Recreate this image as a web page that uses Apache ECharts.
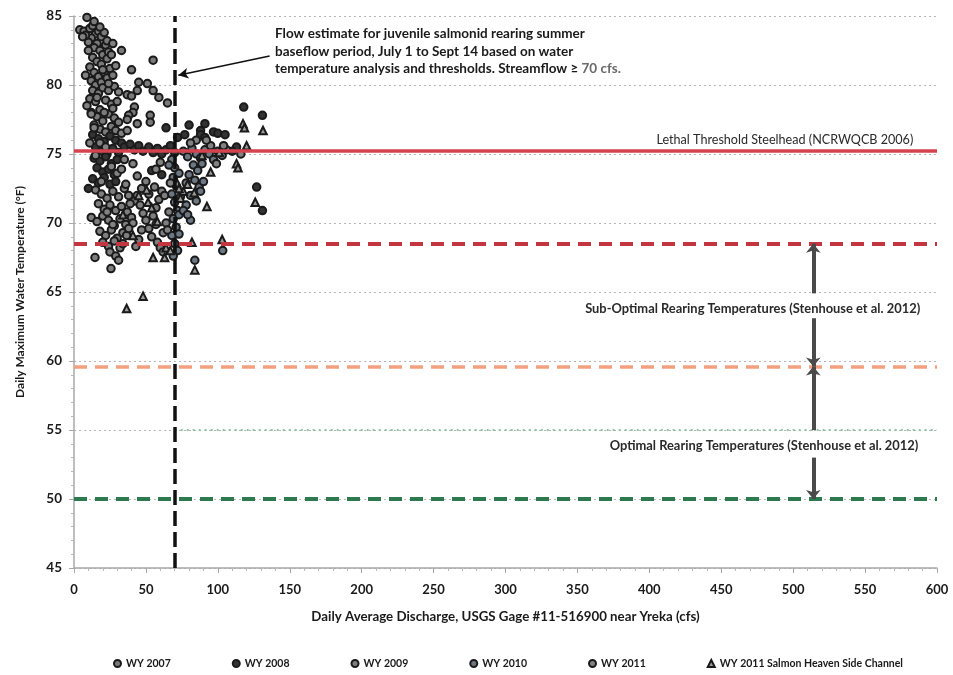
<!DOCTYPE html>
<html>
<head>
<meta charset="utf-8">
<script src="https://cdn.jsdelivr.net/npm/echarts@6/dist/echarts.min.js"></script>
<style>
  html, body { margin: 0; padding: 0; background: #fff; }
  #chart { width: 953px; height: 675px; }
</style>
</head>
<body>
<div id="chart"></div>
<script>
// Daily maximum water temperature vs. daily average discharge, by water year
const seriesNames = ['WY 2007', 'WY 2008', 'WY 2009', 'WY 2010', 'WY 2011', 'WY 2011 Salmon Heaven Side Channel'];

// [discharge (cfs), max water temperature (°F)]
const wy2007 = [
  [9,84.9],[4,84.0],[7,83.9],[11,84.1],[13,84.3],[15,83.7],[12,83.4],[17,83.9],[19,83.5],[21,83.8],
  [16,83.0],[10,83.1],[14,82.7],[18,82.5],[22,82.9],[20,82.2],[24,82.4],[13,82.0],[16,81.7],[19,81.5],
  [23,81.9],[26,82.2],[11,81.3],[14,80.9],[17,80.6],[21,80.9],[25,81.2],[12,80.3],[15,80.0],[19,80.2],
  [23,80.5],[27,80.7],[13,79.6],[17,79.4],[20,79.8],[24,79.6],[28,79.9],[11,79.0],[15,78.8],[18,78.2],
  [22,78.9],[26,78.6],[30,78.8],[12,78.0],[16,77.7],[20,77.4],[24,77.9],[28,77.6],[14,77.1],[18,76.8],
  [22,76.6],[26,77.0],[31,77.3],[33,82.5],[40,81.1],[55,81.8],[45,80.2],[51,80.1],[44,79.6],[55,79.6],
  [37,79.3],[40,79.2],[59,79.1],[65,78.7],[42,78.4],[41,78.0],[38,77.8],[37,77.5],[53,77.8],[53,77.3],[44,77.2],
  [8,83.6],[14,84.6],[18,84.2],[23,83.2],[20,81.1],[24,80.1],[16,79.1],[27,78.3],[21,78.0],[29,76.7]
];
const wy2008 = [
  [13,76.4],[17,76.1],[21,75.9],[25,76.3],[29,76.0],[33,75.8],[15,75.5],[19,75.2],[23,75.0],[27,75.4],
  [31,75.1],[14,74.7],[18,74.5],[22,74.8],[26,74.3],[30,74.6],[16,74.0],[20,73.7],[24,73.9],[28,73.5],
  [13,73.2],[17,72.9],[21,73.3],[25,72.8],[29,73.0],[10,72.5],[35,75.5],[39,75.7],[42,75.3],[45,75.6],
  [48,75.2],[52,75.5],[55,75.1],[58,75.4],[61,75.0],[64,75.3],[67,75.6],[70,75.1],[54,73.8],[61,73.5],
  [64,76.9],[80,77.1],[72,76.2],[77,76.4],[88,76.7],[91,77.2],[88,76.4],[91,76.2],[97,76.6],[100,76.5],
  [105,76.4],[118,78.4],[131,77.8],[127,72.6],[131,70.9],[113,75.5],[110,75.2]
];
const wy2009 = [
  [15,72.4],[19,72.1],[23,71.8],[27,72.3],[31,71.9],[35,72.5],[38,72.0],[17,71.4],[21,71.0],[25,71.3],
  [29,70.9],[33,71.2],[37,70.8],[12,70.4],[16,70.1],[20,70.5],[24,70.2],[28,69.8],[32,70.3],[36,69.9],
  [40,70.4],[18,69.4],[22,69.1],[26,69.5],[30,68.9],[34,69.3],[20,68.6],[24,68.3],[28,68.7],[32,68.2],
  [25,67.9],[29,67.6],[31,67.3],[14.6,67.5],[25.7,66.7],[36.6,69.1],[42,71.6],[44,72.0],[46,71.3],[48,70.7],
  [50,70.2],[52,69.6],[54,69.0],[47,69.5],[45,68.8],[43,68.3],[55,70.5],[57,71.1],[59,71.7],[61,72.3],
  [63,72.0],[58,68.6],[60,68.2],[62,69.3],[64,70.0],[66,70.8],[56,72.6],[50,73.0]
];
const wy2010 = [
  [68,74.6],[70,74.0],[69,73.3],[71,72.7],[68,72.1],[70,71.5],[72,70.9],[69,70.3],[71,69.7],[68,69.1],
  [70,68.5],[72,68.0],[69,67.6],[73,73.6],[74,71.9],[73,70.6],[73,69.2],[66,74.2],[76,75.2],[79,74.8],
  [82,75.4],[85,75.0],[88,74.7],[91,75.3],[94,75.0],[97,74.6],[100,75.2],[103,74.9],[106,75.3],[83,74.2],
  [86,73.8],[89,74.3],[80,73.5],[84,73.1],[87,72.6],[90,73.0],[78,72.9],[81,72.0],[85,71.6],[88,72.3],
  [78,71.3],[81,70.2],[84,67.3],[103.4,68.0],[76,70.9],[79,70.6]
];
const wy2011 = [
  [12,77.9],[14,76.9],[18,75.8],[22,75.5],[26,74.1],[30,73.6],[33,73.9],[36,72.8],[39,71.4],[41,70.0],
  [38,69.6],[34,68.5],[27,69.9],[23,70.8],[19,73.0],[15,74.9],[11,75.8],[9,78.5],[8,80.7],[10,82.5],
  [6,83.5],[27,83.0],[29,81.4],[31,79.5],[33,76.5],[35,74.6],[37,76.7],[41,74.3],[44,73.4],[47,72.5],
  [52,72.1],[57,69.9],[62,67.9],[65,69.5],[67,72.9],[60,74.4],[57,73.9],[95,75.6],[99,74.3],[104,75.6],
  [116,75.0],[92,76.0],[85,76.0],[81,75.8]
];
const wy2011SideChannel = [
  [117.5,77.2],[118.5,76.9],[131.4,76.7],[113,74.3],[114,74.0],[120,75.6],[95,73.7],[92.4,71.2],[83.6,72.2],[79,72.8],
  [76,72.3],[50.5,72.4],[126,71.5],[41,69.1],[55,67.5],[63,67.5],[64,68.2],[82,68.6],[84,66.6],[103,68.8],
  [36.6,63.8],[48,64.7],[51.5,71.5],[54,71.1],[71.6,72.9],[73,72.5],[74,71.8],[45,72.0],[58,70.1],[67,68.0],
  [34,70.6],[89,74.9],[101,75.1]
];

// Temperature thresholds (°F): lethal, sub-optimal upper, optimal upper, 55 °F, optimal lower
const thresholds = [75.2, 68.5, 59.6, 55, 50];
// Summer baseflow estimate (cfs)
const flowTarget = 70;

const allSeriesData = [wy2007, wy2008, wy2009, wy2010, wy2011, wy2011SideChannel];

const FONT = 'Lato, "Liberation Sans", sans-serif';
const chart = echarts.init(document.getElementById('chart'), null, { renderer: 'canvas' });

const fills = ['#7a7a7a', '#333333', '#7e7e7e', '#6b7782', '#828282', '#9a9a9a'];

const scatterSeries = allSeriesData.map((d, i) => ({
  name: seriesNames[i],
  type: 'scatter',
  data: d,
  symbol: i === 5 ? 'triangle' : 'circle',
  symbolSize: 7.5,
  z: 3,
  itemStyle: { color: fills[i], borderColor: '#1a1a1a', borderWidth: 2, opacity: 1 },
  emphasis: { disabled: true }
}));

const blockArrow = (from, to) => [
  { coord: [514, from], symbol: 'none' },
  { coord: [514, to], symbol: 'arrow', symbolSize: [11, 9] }
];

const refSeries = {
  name: 'refs',
  type: 'line',
  data: [],
  silent: true,
  z: 5,
  markLine: {
    silent: true,
    symbol: 'none',
    animation: false,
    label: { show: false },
    data: [
      [{ coord: [0, thresholds[0]], lineStyle: { color: '#d6434f', width: 3.5, type: 'solid' } }, { coord: [600, thresholds[0]] }],
      [{ coord: [0, thresholds[1]], lineStyle: { color: '#c3363f', width: 4, type: [13, 8] } }, { coord: [600, thresholds[1]] }],
      [{ coord: [0, thresholds[2]], lineStyle: { color: '#f2a07f', width: 3.5, type: [13, 8] } }, { coord: [600, thresholds[2]] }],
      [{ coord: [flowTarget, thresholds[3]], lineStyle: { color: '#8ec5a1', width: 2, type: [2, 4] } }, { coord: [600, thresholds[3]] }],
      [{ coord: [0, thresholds[4]], lineStyle: { color: '#2d7a4f', width: 4, type: [13, 8] } }, { coord: [600, thresholds[4]] }],
      [{ coord: [flowTarget, 45], lineStyle: { color: '#111', width: 3.5, type: [15, 6] } }, { coord: [flowTarget, 85] }],
      // pointer from the note to the flow line
      [{ coord: [136, 82.1], symbol: 'none', lineStyle: { color: '#111', width: 1.6, type: 'solid' } },
       { coord: [72.5, 80.7], symbol: 'arrow', symbolSize: [8, 10] }]
    ]
  },
  markPoint: {
    silent: true,
    animation: false,
    symbol: 'circle',
    symbolSize: 0,
    data: [
      { coord: [139.8, 82.45], label: { show: true, position: 'right', distance: 0, align: 'left',
        formatter: 'Flow estimate for juvenile salmonid rearing summer\nbaseflow period, July 1 to Sept 14 based on water\ntemperature analysis and thresholds. Streamflow \u2265 {g|70 cfs.}',
        fontFamily: FONT, fontSize: 13.5, fontWeight: 'bold', lineHeight: 17.5, color: '#1a1a1a',
        rich: { g: { fontFamily: FONT, fontSize: 13.5, fontWeight: 'bold', color: '#6a6a6a', lineHeight: 17.5 } } } },
      { coord: [583.5, 76.0], label: { show: true, position: 'left', distance: 0,
        formatter: 'Lethal Threshold Steelhead (NCRWQCB 2006)', fontFamily: FONT, fontSize: 12.6, color: '#2a2a2a' } },
      { coord: [588.3, 63.77], label: { show: true, position: 'left', distance: 0,
        formatter: 'Sub-Optimal Rearing Temperatures (Stenhouse et al. 2012)', fontFamily: FONT, fontSize: 12.9, fontWeight: 'bold', color: '#2a2a2a' } },
      { coord: [587, 53.84], label: { show: true, position: 'left', distance: 0,
        formatter: 'Optimal Rearing Temperatures (Stenhouse et al. 2012)', fontFamily: FONT, fontSize: 12.9, fontWeight: 'bold', color: '#2a2a2a' } }
    ]
  }
};

// Range arrows between the threshold bands
const arrowSeries = {
  name: 'ranges',
  type: 'line',
  data: [],
  silent: true,
  z: 6,
  markLine: {
    silent: true,
    animation: false,
    label: { show: false },
    lineStyle: { color: '#4a4a4a', width: 4, type: 'solid' },
    data: [
      blockArrow(64.9, thresholds[1]),
      blockArrow(63.1, thresholds[2]),
      blockArrow(55.0, thresholds[2]),
      blockArrow(53.0, thresholds[4])
    ]
  }
};

chart.setOption({
  animation: false,
  backgroundColor: '#ffffff',
  textStyle: { fontFamily: FONT },
  grid: { left: 74, right: 16, top: 16, bottom: 107, containLabel: false },
  xAxis: {
    type: 'value', min: 0, max: 600, interval: 50,
    name: 'Daily Average Discharge, USGS Gage #11-516900 near Yreka (cfs)',
    nameLocation: 'middle', nameGap: 42,
    nameTextStyle: { fontFamily: FONT, fontSize: 13.3, fontWeight: 'bold', color: '#1a1a1a' },
    axisLine: { show: true, lineStyle: { color: '#a8a8a8', width: 1.5 } },
    axisTick: { show: true, length: 5, lineStyle: { color: '#a8a8a8' } },
    minorTick: { show: true, splitNumber: 5, length: 3, lineStyle: { color: '#b8b8b8' } },
    axisLabel: { fontFamily: FONT, fontSize: 13, fontWeight: 'bold', color: '#1a1a1a', margin: 15 },
    splitLine: { show: false }
  },
  yAxis: {
    type: 'value', min: 45, max: 85, interval: 5,
    name: 'Daily Maximum Water Temperature (\u00b0F)',
    nameLocation: 'middle', nameGap: 48, nameRotate: 90,
    nameTextStyle: { fontFamily: FONT, fontSize: 12, fontWeight: 'bold', color: '#1a1a1a' },
    axisLine: { show: true, lineStyle: { color: '#a8a8a8', width: 1.5 } },
    axisTick: { show: true, length: 5, lineStyle: { color: '#a8a8a8' } },
    minorTick: { show: true, splitNumber: 5, length: 3, lineStyle: { color: '#b8b8b8' } },
    axisLabel: { fontFamily: FONT, fontSize: 13.5, fontWeight: 'bold', color: '#1a1a1a', margin: 12 },
    splitLine: { show: true, lineStyle: { color: '#b5b5b5', width: 1.2, type: [2, 3] } }
  },
  legend: {
    data: seriesNames.map((n, i) => ({ name: n, icon: i === 5 ? 'triangle' : 'circle' })),
    bottom: 6,
    left: 113,
    width: 900,
    padding: 0,
    itemWidth: 7, itemHeight: 7, itemGap: 61,
    textStyle: { fontFamily: FONT, fontSize: 10.5, fontWeight: 'bold', color: '#1a1a1a' },
    selectedMode: false
  },
  series: [...scatterSeries, refSeries, arrowSeries]
});
</script>
</body>
</html>
